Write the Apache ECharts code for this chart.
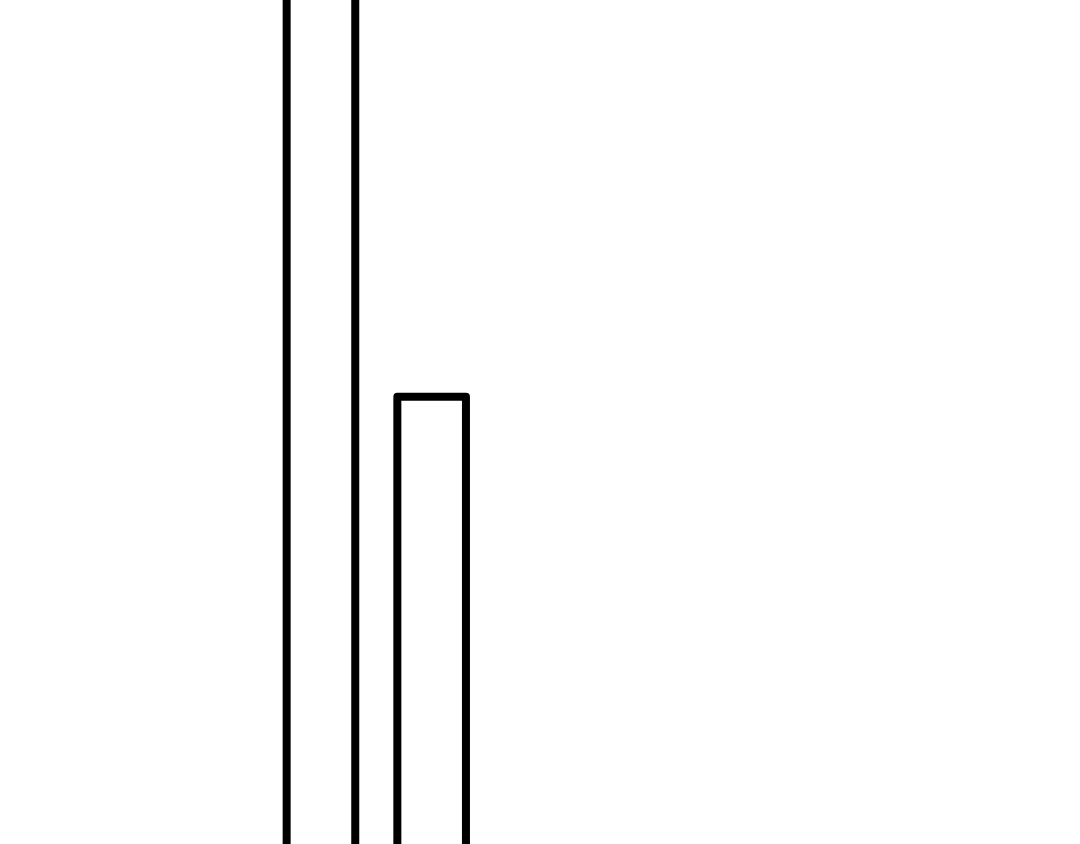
<!DOCTYPE html>
<html>
<head>
<meta charset="utf-8">
<script src="https://cdn.jsdelivr.net/npm/echarts@6/dist/echarts.min.js"></script>
<style>
html,body{margin:0;padding:0;background:#fff;}
#chart{width:1080px;height:844px;}
</style>
</head>
<body>
<div id="chart"></div>
<script>
var categories = ['A', 'B'];
var values = [160, 53.3];

var chart = echarts.init(document.getElementById('chart'), null, {renderer: 'canvas'});
chart.setOption({
  backgroundColor: '#ffffff',
  animation: false,
  grid: {left: 265.6, right: 593, top: -20, bottom: -20, containLabel: false, outerBoundsMode: 'none'},
  xAxis: {type: 'category', data: categories, show: false},
  yAxis: {type: 'value', min: 0, max: 100, show: false},
  series: [{
    type: 'bar',
    data: values,
    barWidth: 76.6,
    clip: true,
    itemStyle: {color: '#ffffff', borderColor: '#000000', borderWidth: 8, borderJoin: 'round'}
  }]
});
</script>
</body>
</html>
